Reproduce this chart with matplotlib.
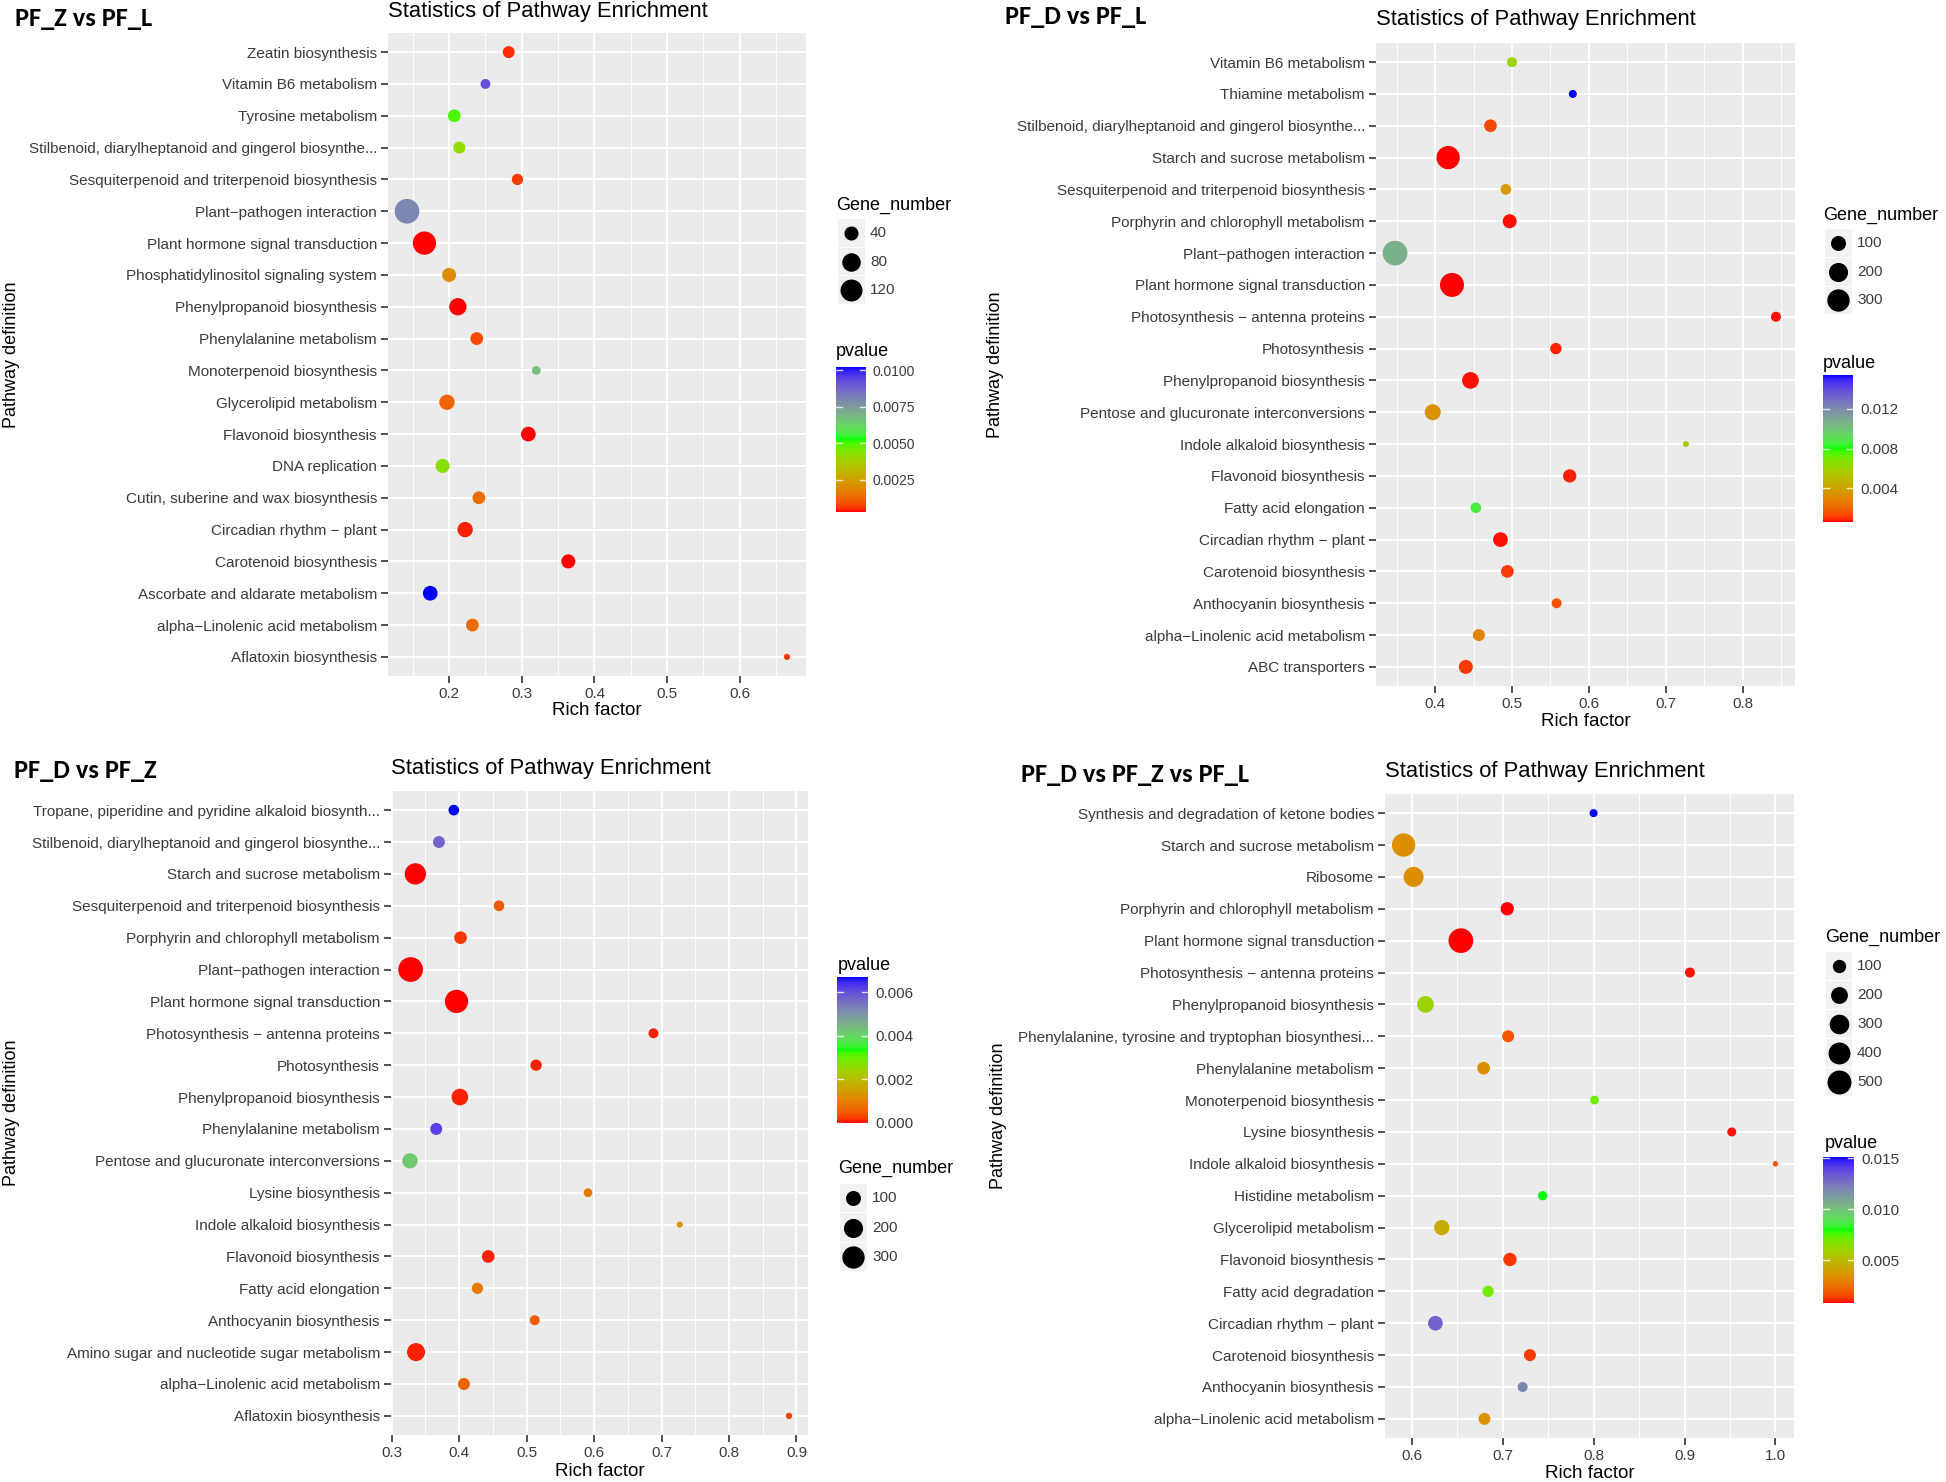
import numpy as np
import matplotlib
matplotlib.use("Agg")
import matplotlib.pyplot as plt
from matplotlib.colors import ListedColormap, Normalize
from matplotlib.patches import Rectangle
from matplotlib.ticker import MultipleLocator, FormatStrFormatter

W, H = 1946, 1482
DPI = 100

# ---------------- data ----------------
p1_terms = ["Zeatin biosynthesis", "Vitamin B6 metabolism", "Tyrosine metabolism",
            "Stilbenoid, diarylheptanoid and gingerol biosynthe...",
            "Sesquiterpenoid and triterpenoid biosynthesis", "Plant\u2212pathogen interaction",
            "Plant hormone signal transduction", "Phosphatidylinositol signaling system",
            "Phenylpropanoid biosynthesis", "Phenylalanine metabolism",
            "Monoterpenoid biosynthesis", "Glycerolipid metabolism", "Flavonoid biosynthesis",
            "DNA replication", "Cutin, suberine and wax biosynthesis",
            "Circadian rhythm \u2212 plant", "Carotenoid biosynthesis",
            "Ascorbate and aldarate metabolism", "alpha\u2212Linolenic acid metabolism",
            "Aflatoxin biosynthesis"]
p1_rich = [0.282, 0.250, 0.207, 0.214, 0.294, 0.142, 0.166, 0.200, 0.212, 0.238,
           0.320, 0.197, 0.309, 0.191, 0.241, 0.222, 0.364, 0.174, 0.232, 0.665]
p1_genes = [26, 15, 31, 26, 22, 158, 138, 40, 68, 31, 10, 50, 45, 40, 31, 50, 40, 45, 31, 3]
p1_pvalue = [0.0005, 0.0092, 0.0050, 0.0041, 0.0006, 0.0080, 0.00027, 0.0020, 0.00027, 0.0008,
             0.0067, 0.0012, 0.0003, 0.0043, 0.0013, 0.0004, 0.0003, 0.01023, 0.0013, 0.0006]

p2_terms = ["Vitamin B6 metabolism", "Thiamine metabolism",
            "Stilbenoid, diarylheptanoid and gingerol biosynthe...",
            "Starch and sucrose metabolism", "Sesquiterpenoid and triterpenoid biosynthesis",
            "Porphyrin and chlorophyll metabolism", "Plant\u2212pathogen interaction",
            "Plant hormone signal transduction", "Photosynthesis \u2212 antenna proteins",
            "Photosynthesis", "Phenylpropanoid biosynthesis",
            "Pentose and glucuronate interconversions", "Indole alkaloid biosynthesis",
            "Flavonoid biosynthesis", "Fatty acid elongation", "Circadian rhythm \u2212 plant",
            "Carotenoid biosynthesis", "Anthocyanin biosynthesis",
            "alpha\u2212Linolenic acid metabolism", "ABC transporters"]
p2_rich = [0.500, 0.579, 0.472, 0.417, 0.492, 0.497, 0.348, 0.422, 0.843, 0.557,
           0.446, 0.397, 0.726, 0.575, 0.453, 0.485, 0.494, 0.558, 0.457, 0.440]
p2_genes = [25, 9, 59, 335, 32, 81, 388, 361, 25, 40, 137, 121, 1, 69, 32, 94, 59, 25, 49, 81]
p2_pvalue = [0.0060, 0.0154, 0.0013, 0.0006, 0.0036, 0.0007, 0.0107, 0.0006, 0.0007, 0.0008,
             0.0007, 0.0034, 0.0058, 0.0008, 0.0086, 0.0007, 0.0011, 0.0016, 0.0028, 0.0011]

p3_terms = ["Tropane, piperidine and pyridine alkaloid biosynth...",
            "Stilbenoid, diarylheptanoid and gingerol biosynthe...",
            "Starch and sucrose metabolism", "Sesquiterpenoid and triterpenoid biosynthesis",
            "Porphyrin and chlorophyll metabolism", "Plant\u2212pathogen interaction",
            "Plant hormone signal transduction", "Photosynthesis \u2212 antenna proteins",
            "Photosynthesis", "Phenylpropanoid biosynthesis", "Phenylalanine metabolism",
            "Pentose and glucuronate interconversions", "Lysine biosynthesis",
            "Indole alkaloid biosynthesis", "Flavonoid biosynthesis", "Fatty acid elongation",
            "Anthocyanin biosynthesis", "Amino sugar and nucleotide sugar metabolism",
            "alpha\u2212Linolenic acid metabolism", "Aflatoxin biosynthesis"]
p3_rich = [0.392, 0.370, 0.335, 0.459, 0.402, 0.328, 0.396, 0.688, 0.514, 0.401,
           0.366, 0.327, 0.591, 0.727, 0.443, 0.427, 0.512, 0.336, 0.407, 0.889]
p3_genes = [32, 49, 266, 32, 59, 388, 335, 25, 40, 137, 49, 106, 14, 1, 59, 40, 25, 169, 49, 2]
p3_pvalue = [0.0067, 0.0057, 0.0000, 0.0005, 0.0002, 0.0000, 0.0000, 0.0001, 0.0001, 0.0001,
             0.0062, 0.0042, 0.0009, 0.0013, 0.0001, 0.0009, 0.0005, 0.0001, 0.0006, 0.0003]

p4_terms = ["Synthesis and degradation of ketone bodies", "Starch and sucrose metabolism",
            "Ribosome", "Porphyrin and chlorophyll metabolism",
            "Plant hormone signal transduction", "Photosynthesis \u2212 antenna proteins",
            "Phenylpropanoid biosynthesis",
            "Phenylalanine, tyrosine and tryptophan biosynthesi...",
            "Phenylalanine metabolism", "Monoterpenoid biosynthesis", "Lysine biosynthesis",
            "Indole alkaloid biosynthesis", "Histidine metabolism", "Glycerolipid metabolism",
            "Flavonoid biosynthesis", "Fatty acid degradation", "Circadian rhythm \u2212 plant",
            "Carotenoid biosynthesis", "Anthocyanin biosynthesis",
            "alpha\u2212Linolenic acid metabolism"]
p4_rich = [0.800, 0.591, 0.602, 0.705, 0.654, 0.906, 0.615, 0.706, 0.679, 0.801,
           0.952, 1.000, 0.744, 0.633, 0.708, 0.684, 0.626, 0.730, 0.722, 0.680]
p4_genes = [15, 468, 316, 100, 541, 38, 195, 72, 87, 22, 25, 1, 29, 152, 100, 59, 135, 72, 38, 72]
p4_pvalue = [0.0151, 0.0034, 0.0034, 0.0008, 0.0008, 0.0009, 0.0060, 0.0018, 0.0034, 0.0071,
             0.0009, 0.0018, 0.0080, 0.0044, 0.0012, 0.0070, 0.0130, 0.0013, 0.0120, 0.0035]

p1_size_breaks = [40, 80, 120]
p2_size_breaks = [100, 200, 300]
p3_size_breaks = [100, 200, 300]
p4_size_breaks = [100, 200, 300, 400, 500]
p1_p_ticks = [0.0025, 0.0050, 0.0075, 0.0100]
p2_p_ticks = [0.004, 0.008, 0.012]
p3_p_ticks = [0.000, 0.002, 0.004, 0.006]
p4_p_ticks = [0.005, 0.010, 0.015]

# ---------------- colour scale: red -> green -> blue, interpolated in CIELAB ----------------
M = np.array([[0.4124, 0.3576, 0.1805], [0.2126, 0.7152, 0.0722], [0.0193, 0.1192, 0.9505]])
WHITE = np.array([0.95047, 1.0, 1.08883])


def srgb_to_lab(c):
    c = np.asarray(c, float)
    lin = np.where(c <= 0.04045, c / 12.92, ((c + 0.055) / 1.055) ** 2.4)
    t = (M @ lin) / WHITE
    f = np.where(t > (6 / 29) ** 3, np.cbrt(t), t / (3 * (6 / 29) ** 2) + 4 / 29)
    return np.array([116 * f[1] - 16, 500 * (f[0] - f[1]), 200 * (f[1] - f[2])])


def lab_to_srgb(lab):
    L, a, b = lab
    fy = (L + 16) / 116
    f = np.array([fy + a / 500, fy, fy - b / 200])
    d = 6 / 29
    t = np.where(f > d, f ** 3, 3 * d * d * (f - 4 / 29))
    lin = np.clip(np.linalg.inv(M) @ (t * WHITE), 0, 1)
    c = np.where(lin <= 0.0031308, 12.92 * lin, 1.055 * lin ** (1 / 2.4) - 0.055)
    return np.clip(c, 0, 1)


stops = [srgb_to_lab(c) for c in ([1, 0, 0], [0, 1, 0], [0, 0, 1])]
ramp = []
for t in np.linspace(0, 1, 256):
    if t <= 0.5:
        lab = stops[0] + (stops[1] - stops[0]) * (t / 0.5)
    else:
        lab = stops[1] + (stops[2] - stops[1]) * ((t - 0.5) / 0.5)
    ramp.append(lab_to_srgb(lab))
cmap = ListedColormap(ramp)

MAIN_FONT = ["Liberation Sans", "DejaVu Sans"]
TAG_FONT = ["Carlito", "Lato", "DejaVu Sans"]
TXT = "#3a3a3a"

fig = plt.figure(figsize=(W / DPI, H / DPI), dpi=DPI)


def fx(x):
    return x / W


def fy(y):
    return 1 - y / H


def add_px_axes(x0, y0, x1, y1):
    return fig.add_axes([fx(x0), fy(y1), (x1 - x0) / W, (y1 - y0) / H])


def diam(g, d0, k):
    return d0 + k * np.sqrt(np.asarray(g, float))


def draw_panel(tag, terms, rich, genes, pvals, size_breaks, p_ticks, p_fmt, lay):
    x0, y0, x1, y1 = lay["box"]
    ax = add_px_axes(x0, y0, x1, y1)
    ax.set_facecolor("#EBEBEB")
    n = len(terms)
    ypos = np.arange(n)[::-1]
    lo, hi = min(rich), max(rich)
    ax.set_xlim(lo - 0.05 * (hi - lo), hi + 0.05 * (hi - lo))
    ax.set_ylim(-0.6, n - 0.4)
    ax.xaxis.set_major_locator(MultipleLocator(0.1))
    ax.xaxis.set_minor_locator(MultipleLocator(0.05))
    ax.xaxis.set_major_formatter(FormatStrFormatter("%.1f"))
    ax.set_yticks(ypos)
    ax.set_yticklabels(terms, family=MAIN_FONT, fontsize=11, color=TXT)
    for lab in ax.get_xticklabels():
        lab.set_family(MAIN_FONT)
    ax.tick_params(axis="x", which="major", labelsize=11, colors="#333333", labelcolor=TXT,
                   length=5, width=1.2, pad=3)
    ax.tick_params(axis="x", which="minor", length=0)
    ax.tick_params(axis="y", length=5, width=1.2, colors="#333333", labelcolor=TXT, pad=3)
    ax.grid(which="major", color="white", linewidth=1.4)
    ax.grid(which="minor", axis="x", color="white", linewidth=0.7)
    ax.set_axisbelow(True)
    for s in ax.spines.values():
        s.set_visible(False)

    d0, k = lay["size_fn"]
    sizes = (diam(genes, d0, k) * 72 / DPI) ** 2
    pmin, pmax = min(pvals), max(pvals)
    norm = Normalize(pmin, pmax)
    ax.scatter(rich, ypos, s=sizes, c=pvals, cmap=cmap, norm=norm, linewidths=0, zorder=3)

    # titles
    fig.text(fx(lay["tag"][0]), fy(lay["tag"][1]), tag, family=TAG_FONT, fontweight="bold",
             fontsize=19, va="center", ha="left", color="black")
    fig.text(fx(x0), fy(lay["title_y"]), "Statistics of Pathway Enrichment", family=MAIN_FONT,
             fontsize=15.8, va="center", ha="left", color="black")
    fig.text(fx(lay["ylab_x"]), fy((y0 + y1) / 2), "Pathway definition", family=MAIN_FONT,
             fontsize=13, rotation=90, va="center", ha="center", color="black")
    fig.text(fx((x0 + x1) / 2), fy(lay["xlab_y"]), "Rich factor", family=MAIN_FONT,
             fontsize=13.5, va="center", ha="center", color="black")

    # size legend
    tx, ty = lay["size_title"]
    fig.text(fx(tx), fy(ty), "Gene_number", family=MAIN_FONT, fontsize=13, va="center",
             ha="left", color="black")
    kx0, kx1 = lay["key_x"]
    ky, step = lay["key_y"], lay["key_step"]
    nk = len(size_breaks)
    lax = add_px_axes(kx0, ky - step / 2, kx1, ky - step / 2 + nk * step)
    lax.set_xlim(kx0, kx1)
    lax.set_ylim(ky - step / 2 + nk * step, ky - step / 2)
    lax.axis("off")
    for i, b in enumerate(size_breaks):
        cy = ky + i * step
        lax.add_patch(Rectangle((kx0 + 0.5, cy - step / 2 + 0.5), kx1 - kx0 - 1, step - 1,
                                facecolor="#F2F2F2", edgecolor="none"))
        lax.scatter([(kx0 + kx1) / 2], [cy], s=(diam(b, d0, k) * 72 / DPI) ** 2, color="black",
                    linewidths=0, zorder=3)
        fig.text(fx(kx1 + 5), fy(cy), str(b), family=MAIN_FONT, fontsize=11, va="center",
                 ha="left", color=TXT)

    # colour bar
    ptx, pty = lay["p_title"]
    fig.text(fx(ptx), fy(pty), "pvalue", family=MAIN_FONT, fontsize=13, va="center",
             ha="left", color="black")
    bx0, by0, bx1, by1 = lay["bar"]
    cax = add_px_axes(bx0, by0, bx1, by1)
    grad = np.linspace(pmin, pmax, 300).reshape(-1, 1)
    cax.imshow(grad, cmap=cmap, norm=norm, origin="lower", aspect="auto",
               extent=[0, 1, pmin, pmax])
    cax.set_xlim(0, 1)
    cax.set_ylim(pmin, pmax)
    for v in p_ticks:
        cax.plot([0, 0.2], [v, v], color="white", lw=1, alpha=0.8)
        cax.plot([0.8, 1], [v, v], color="white", lw=1, alpha=0.8)
    cax.set_xticks([])
    cax.yaxis.tick_right()
    cax.set_yticks(p_ticks)
    cax.set_yticklabels([p_fmt % v for v in p_ticks], family=MAIN_FONT)
    cax.tick_params(axis="y", length=0, pad=5, labelsize=lay.get("p_fs", 11), labelcolor=TXT)
    for s in cax.spines.values():
        s.set_visible(False)


draw_panel("PF_Z vs PF_L", p1_terms, p1_rich, p1_genes, p1_pvalue, p1_size_breaks,
           p1_p_ticks, "%.4f",
           dict(box=(388, 33, 806, 676), tag=(15, 18), title_y=12, ylab_x=12, xlab_y=711,
                size_fn=(3.3, 1.7), size_title=(836, 205), key_x=(837, 865), key_y=233,
                key_step=28.5, p_title=(836, 352), bar=(836, 367, 866, 512), p_fs=10))

draw_panel("PF_D vs PF_L", p2_terms, p2_rich, p2_genes, p2_pvalue, p2_size_breaks,
           p2_p_ticks, "%.3f",
           dict(box=(1376, 43, 1795, 686), tag=(1005, 17), title_y=20, ylab_x=996, xlab_y=721,
                size_fn=(5.0, 1.0), size_title=(1823, 215), key_x=(1824, 1852), key_y=243,
                key_step=28.7, p_title=(1823, 363), bar=(1823, 375, 1853, 522)))

draw_panel("PF_D vs PF_Z", p3_terms, p3_rich, p3_genes, p3_pvalue, p3_size_breaks,
           p3_p_ticks, "%.3f",
           dict(box=(391, 791, 808, 1435), tag=(14, 770), title_y=769, ylab_x=12, xlab_y=1471,
                size_fn=(5.0, 1.0), size_title=(838, 1168), key_x=(839, 867), key_y=1198,
                key_step=29.5, p_title=(838, 965), bar=(837, 977, 868, 1123)))

draw_panel("PF_D vs PF_Z vs PF_L", p4_terms, p4_rich, p4_genes, p4_pvalue, p4_size_breaks,
           p4_p_ticks, "%.3f",
           dict(box=(1385, 794, 1794, 1438), tag=(1021, 774), title_y=772, ylab_x=998,
                xlab_y=1473, size_fn=(4.7, 0.86), size_title=(1825, 937), key_x=(1825, 1852),
                key_y=966, key_step=29, p_title=(1825, 1143), bar=(1823, 1157, 1854, 1303)))

fig.savefig("out.png", dpi=DPI, facecolor="white")
